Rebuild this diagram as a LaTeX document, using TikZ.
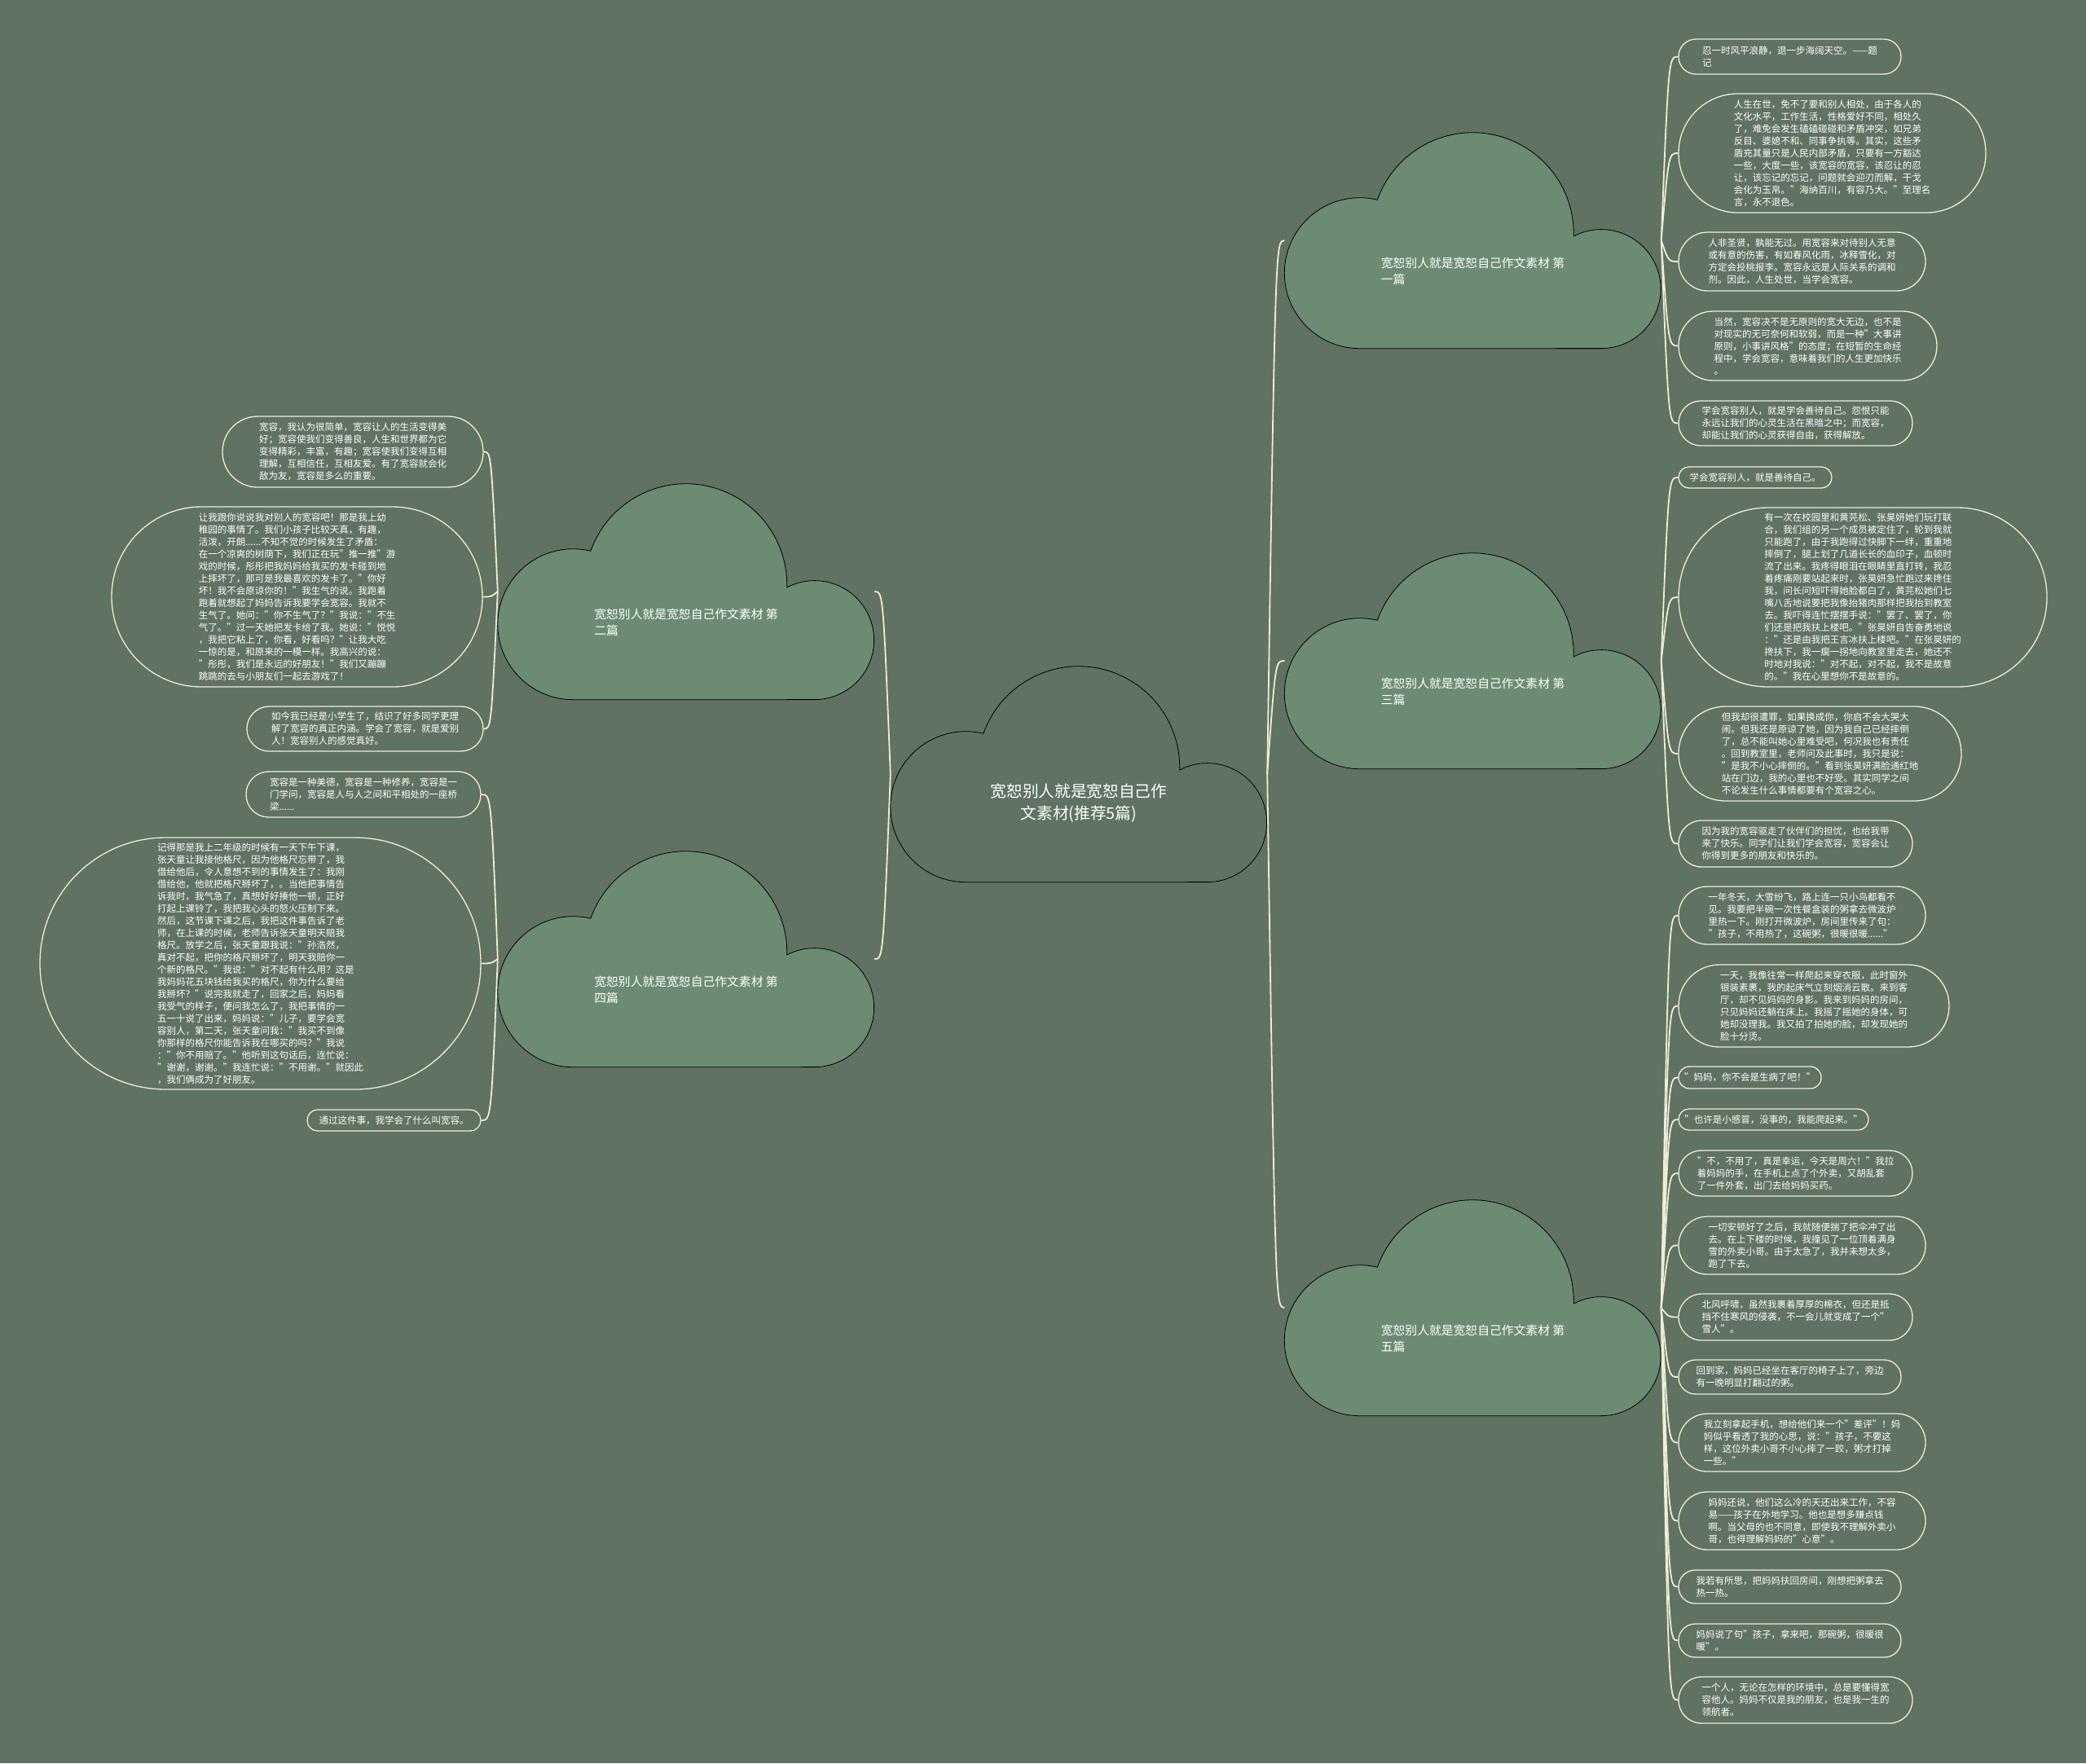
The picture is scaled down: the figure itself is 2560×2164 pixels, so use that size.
\documentclass[tikz,border=0pt]{standalone}
\usepackage{fontspec}
\setmainfont{Noto Sans CJK SC}
\usetikzlibrary{calc}
\definecolor{bgmain}{RGB}{96,114,98}
\definecolor{cloudgreen}{RGB}{108,139,115}
\definecolor{cream}{RGB}{240,236,214}

% cloud outline drawn on the box node #1
\newcommand{\cloudshape}[2]{%
  \draw[cloudline, fill=#2, shift={(#1.south west)}]
    (92.5pt,0pt) arc[start angle=270, end angle=76.5, radius=92.5pt]
    arc[start angle=160.45, end angle=-1.5, radius=124pt]
    arc[start angle=117.7, end angle=-90, radius=73pt] -- cycle;}
% leaf: name, left, top, width, height, text
\newcommand{\leaf}[6]{%
  \pgfmathsetmacro\rc{#5/2-0.2}%
  \node[leaf, minimum width=#4pt, minimum height=#5pt, rounded corners=\rc pt]
    (#1) at (#2+#4/2, #3+#5/2) {#6};}

\begin{document}
\begin{tikzpicture}[x=1pt, y=-1pt,
  cloudbox/.style={minimum width=462pt, minimum height=265pt, inner sep=0pt},
  cloudline/.style={draw=black, line width=0.8pt},
  roottext/.style={text=white, align=center, font=\fontsize{19.7}{27}\selectfont},
  branchtext/.style={text=white, align=left, font=\fontsize{14.8}{20}\selectfont},
  leaf/.style={draw=cream, line width=1.3pt, text=white, align=left, inner sep=0pt,
    font=\fontsize{11.5}{15}\selectfont},
  link/.style={draw=cream, line width=1.8pt}]

\fill[bgmain] (0,0) rectangle (2560,2164);
\useasboundingbox (0,0) rectangle (2560,2164);

% ===== clouds =====
\node[cloudbox] (root) at (1324,950) {};
\node[cloudbox] (c1) at (1807.5,295) {};
\node[cloudbox] (c3) at (1807.5,811) {};
\node[cloudbox] (c5) at (1807.5,1605) {};
\node[cloudbox] (c2) at (842,726) {};
\node[cloudbox] (c4) at (842,1177) {};
\cloudshape{root}{bgmain}
\foreach \c in {c1,c2,c3,c4,c5} {\cloudshape{\c}{cloudgreen}}

\node[roottext] (rootlbl) at ([yshift=-36pt]root.center) {宽恕别人就是宽恕自己作\\文素材(推荐5篇)};
\node[branchtext] (c1lbl) at ([yshift=-38pt]c1.center) {宽恕别人就是宽恕自己作文素材 第\\一篇};
\node[branchtext] (c2lbl) at ([yshift=-38pt]c2.center) {宽恕别人就是宽恕自己作文素材 第\\二篇};
\node[branchtext] (c3lbl) at ([yshift=-38pt]c3.center) {宽恕别人就是宽恕自己作文素材 第\\三篇};
\node[branchtext] (c4lbl) at ([yshift=-38pt]c4.center) {宽恕别人就是宽恕自己作文素材 第\\四篇};
\node[branchtext] (c5lbl) at ([yshift=-38pt]c5.center) {宽恕别人就是宽恕自己作文素材 第\\五篇};

% ===== first piece =====
\leaf{L1a}{2060}{48}{273}{43}{忍一时风平浪静，退一步海阔天空。——题\\记}
\leaf{L1b}{2060}{115}{377}{146}{人生在世，免不了要和别人相处，由于各人的\\文化水平，工作生活，性格爱好不同，相处久\\了，难免会发生磕磕碰碰和矛盾冲突，如兄弟\\反目、婆媳不和、同事争执等。其实，这些矛\\盾充其量只是人民内部矛盾，只要有一方豁达\\一些，大度一些，该宽容的宽容，该忍让的忍\\让，该忘记的忘记，问题就会迎刃而解，干戈\\会化为玉帛。"海纳百川，有容乃大。"至理名\\言，永不退色。}
\leaf{L1c}{2060}{285}{303}{72}{人非圣贤，孰能无过。用宽容来对待别人无意\\或有意的伤害，有如春风化雨，冰释雪化，对\\方定会投桃报李。宽容永远是人际关系的调和\\剂。因此，人生处世，当学会宽容。}
\leaf{L1d}{2060}{382}{317}{85}{当然，宽容决不是无原则的宽大无边，也不是\\对现实的无可奈何和软弱，而是一种"大事讲\\原则，小事讲风格"的态度；在短暂的生命经\\程中，学会宽容，意味着我们的人生更加快乐\\。}
\leaf{L1e}{2060}{492}{287}{55}{学会宽容别人，就是学会善待自己。怨恨只能\\永远让我们的心灵生活在黑暗之中；而宽容，\\却能让我们的心灵获得自由，获得解放。}

% ===== third piece =====
\leaf{L3a}{2060}{573}{188}{26}{学会宽容别人，就是善待自己。}
\leaf{L3b}{2060}{623}{452}{220}{有一次在校园里和黄芫松、张昊妍她们玩打联\\合，我们组的另一个成员被定住了，轮到我就\\只能跑了，由于我跑得过快脚下一绊，重重地\\摔倒了，腿上划了几道长长的血印子，血顿时\\流了出来。我疼得眼泪在眼睛里直打转，我忍\\着疼痛刚要站起来时，张昊妍急忙跑过来搀住\\我，问长问短吓得她脸都白了，黄芫松她们七\\嘴八舌地说要把我像抬猪肉那样把我抬到教室\\去。我吓得连忙摆摆手说："罢了、罢了，你\\们还是把我扶上楼吧。"张昊妍自告奋勇地说\\："还是由我把王言冰扶上楼吧。"在张昊妍的\\搀扶下，我一瘸一拐地向教室里走去，她还不\\时地对我说："对不起，对不起，我不是故意\\的。"我在心里想你不是故意的。}
\leaf{L3c}{2060}{867}{347}{116}{但我却很遭罪，如果换成你，你启不会大哭大\\闹。但我还是原谅了她，因为我自己已经摔倒\\了，总不能叫她心里难受吧，何况我也有责任\\。回到教室里，老师问及此事时，我只是说：\\"是我不小心摔倒的。"看到张昊妍满脸通红地\\站在门边，我的心里也不好受。其实同学之间\\不论发生什么事情都要有个宽容之心。}
\leaf{L3d}{2060}{1007}{287}{57}{因为我的宽容驱走了伙伴们的担忧，也给我带\\来了快乐。同学们让我们学会宽容，宽容会让\\你得到更多的朋友和快乐的。}

% ===== fifth piece =====
\leaf{L5a}{2060}{1088}{303}{71}{一年冬天，大雪纷飞，路上连一只小鸟都看不\\见。我要把半碗一次性餐盒装的粥拿去微波炉\\里热一下。刚打开微波炉，房间里传来了句：\\"孩子，不用热了，这碗粥，很暖很暖......"}
\leaf{L5b}{2060}{1184}{332}{101}{一天，我像往常一样爬起来穿衣服，此时窗外\\银装素裹，我的起床气立刻烟消云散。来到客\\厅，却不见妈妈的身影。我来到妈妈的房间，\\只见妈妈还躺在床上。我摇了摇她的身体，可\\她却没理我。我又拍了拍她的脸，却发现她的\\脸十分烫。}
\leaf{L5c}{2060}{1309}{175}{27}{"妈妈，你不会是生病了吧！"}
\leaf{L5d}{2060}{1361}{233}{26}{"也许是小感冒，没事的，我能爬起来。"}
\leaf{L5e}{2060}{1412}{287}{56}{"不，不用了，真是幸运，今天是周六！"我拉\\着妈妈的手，在手机上点了个外卖，又胡乱套\\了一件外套，出门去给妈妈买药。}
\leaf{L5f}{2060}{1493}{303}{71}{一切安顿好了之后，我就随便揣了把伞冲了出\\去。在上下楼的时候，我撞见了一位顶着满身\\雪的外卖小哥。由于太急了，我并未想太多，\\跑了下去。}
\leaf{L5g}{2060}{1588}{287}{57}{北风呼啸，虽然我裹着厚厚的棉衣，但还是抵\\挡不住寒风的侵袭，不一会儿就变成了一个"\\雪人"。}
\leaf{L5h}{2060}{1669}{273}{42}{回到家，妈妈已经坐在客厅的椅子上了，旁边\\有一晚明显打翻过的粥。}
\leaf{L5i}{2060}{1735}{303}{71}{我立刻拿起手机，想给他们来一个"差评"！妈\\妈似乎看透了我的心思，说："孩子，不要这\\样，这位外卖小哥不小心摔了一跤，粥才打掉\\一些。"}
\leaf{L5j}{2060}{1831}{303}{71}{妈妈还说，他们这么冷的天还出来工作，不容\\易——孩子在外地学习。他也是想多赚点钱\\啊。当父母的也不同意，即使我不理解外卖小\\哥，也得理解妈妈的"心意"。}
\leaf{L5k}{2060}{1927}{273}{41}{我若有所思，把妈妈扶回房间，刚想把粥拿去\\热一热。}
\leaf{L5l}{2060}{1993}{273}{41}{妈妈说了句"孩子，拿来吧，那碗粥，很暖很\\暖"。}
\leaf{L5m}{2060}{2058}{287}{57}{一个人，无论在怎样的环境中，总是要懂得宽\\容他人。妈妈不仅是我的朋友，也是我一生的\\领航者。}

% ===== second piece =====
\leaf{L2a}{273}{511}{320}{87}{宽容，我认为很简单，宽容让人的生活变得美\\好；宽容使我们变得善良，人生和世界都为它\\变得精彩，丰富，有趣；宽容使我们变得互相\\理解，互相信任，互相友爱。有了宽容就会化\\敌为友，宽容是多么的重要。}
\leaf{L2b}{137}{622}{455}{221}{让我跟你说说我对别人的宽容吧！那是我上幼\\稚园的事情了。我们小孩子比较天真，有趣，\\活泼，开朗......不知不觉的时候发生了矛盾：\\在一个凉爽的树荫下，我们正在玩"推一推"游\\戏的时候，彤彤把我妈妈给我买的发卡碰到地\\上摔坏了，那可是我最喜欢的发卡了。"你好\\坏！我不会原谅你的！"我生气的说。我跑着\\跑着就想起了妈妈告诉我要学会宽容。我就不\\生气了。她问："你不生气了？"我说："不生\\气了。"过一天她把发卡给了我。她说："悦悦\\，我把它粘上了，你看，好看吗？"让我大吃\\一惊的是，和原来的一模一样。我高兴的说：\\"彤彤，我们是永远的好朋友！"我们又蹦蹦\\跳跳的去与小朋友们一起去游戏了！}
\leaf{L2c}{303}{867}{290}{55}{如今我已经是小学生了，结识了好多同学更理\\解了宽容的真正内涵。学会了宽容，就是爱别\\人！宽容别人的感觉真好。}

% ===== fourth piece =====
\leaf{L4a}{302}{947}{288}{56}{宽容是一种美德，宽容是一种修养，宽容是一\\门学问，宽容是人与人之间和平相处的一座桥\\梁......}
\leaf{L4b}{49}{1028}{541}{309}{记得那是我上二年级的时候有一天下午下课，\\张天童让我接他格尺，因为他格尺忘带了，我\\借给他后，令人意想不到的事情发生了：我刚\\借给他，他就把格尺掰坏了，。当他把事情告\\诉我时，我气急了，真想好好揍他一顿，正好\\打起上课铃了，我把我心头的怒火压制下来。\\然后，这节课下课之后，我把这件事告诉了老\\师，在上课的时候，老师告诉张天童明天赔我\\格尺。放学之后，张天童跟我说："孙浩然，\\真对不起，把你的格尺掰坏了，明天我赔你一\\个新的格尺。"我说："对不起有什么用？这是\\我妈妈花五块钱给我买的格尺，你为什么要给\\我掰坏？"说完我就走了，回家之后，妈妈看\\我受气的样子，便问我怎么了，我把事情的一\\五一十说了出来，妈妈说："儿子，要学会宽\\容别人，第二天，张天童问我："我买不到像\\你那样的格尺你能告诉我在哪买的吗？"我说\\："你不用赔了。"他听到这句话后，连忙说：\\"谢谢，谢谢。"我连忙说："不用谢。"就因此\\，我们俩成为了好朋友。}
\leaf{L4c}{377}{1362}{213}{26}{通过这件事，我学会了什么叫宽容。}

% ===== connectors =====
\coordinate (rootR) at ([xshift=10pt]root.east);
\coordinate (rootL) at ([xshift=-9pt]root.west);
\foreach \c in {c1,c3,c5} \draw[link] (root.east) .. controls (rootR |- \c.west) .. (\c.west);
\foreach \c in {c2,c4} \draw[link] (root.west) .. controls (rootL |- \c.east) .. (\c.east);

\coordinate (c1R) at ([xshift=9pt]c1.east);
\coordinate (c3R) at ([xshift=9pt]c3.east);
\coordinate (c5R) at ([xshift=9pt]c5.east);
\coordinate (c2L) at ([xshift=-8pt]c2.west);
\coordinate (c4L) at ([xshift=-8pt]c4.west);
\foreach \n in {L1a,L1b,L1c,L1d,L1e} \draw[link] (c1.east) .. controls (c1R |- \n.west) .. (\n.west);
\foreach \n in {L3a,L3b,L3c,L3d} \draw[link] (c3.east) .. controls (c3R |- \n.west) .. (\n.west);
\foreach \n in {L5a,L5b,L5c,L5d,L5e,L5f,L5g,L5h,L5i,L5j,L5k,L5l,L5m}
  \draw[link] (c5.east) .. controls (c5R |- \n.west) .. (\n.west);
\foreach \n in {L2a,L2b,L2c} \draw[link] (c2.west) .. controls (c2L |- \n.east) .. (\n.east);
\foreach \n in {L4a,L4b,L4c} \draw[link] (c4.west) .. controls (c4L |- \n.east) .. (\n.east);

\end{tikzpicture}
\end{document}
